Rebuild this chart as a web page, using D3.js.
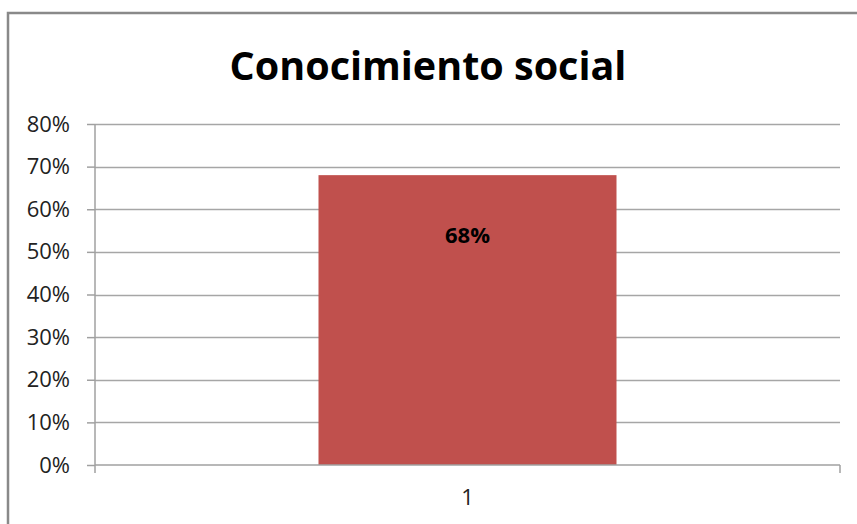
<!DOCTYPE html>
<html><head><meta charset="utf-8">
<script src="https://cdn.jsdelivr.net/npm/d3@7"></script>
<style>html,body{margin:0;padding:0;background:#fff;}svg{display:block;}</style>
</head><body>
<svg id="c" width="857" height="524"></svg>
<script>
const title = "Conocimiento social";
const categories = ["1"];
const values = [0.68];
const yTicks = [0, 0.1, 0.2, 0.3, 0.4, 0.5, 0.6, 0.7, 0.8];

const svg = d3.select("#c");
const font = "'Open Sans', sans-serif";
// outer chart border (left and top visible)
svg.append("path").attr("d", "M8,530 V13 H870").attr("fill", "none")
  .attr("stroke", "#898989").attr("stroke-width", 2.5);

const m = {left: 95, right: 840, top: 124, bottom: 465};
const x = d3.scaleBand().domain(categories).range([m.left, m.right]).paddingInner(0.6).paddingOuter(0.3);
const y = d3.scaleLinear().domain([0, 0.8]).range([m.bottom, m.top]);

svg.append("text").attr("x", 428).attr("y", 80).attr("text-anchor", "middle")
  .attr("font-family", font).attr("font-weight", "bold").attr("font-size", 39.5)
  .attr("fill", "#000").text(title);

// gridlines
svg.append("g").selectAll("line").data(yTicks.filter(t => t > 0)).join("line")
  .attr("x1", m.left).attr("x2", m.right)
  .attr("y1", d => Math.round(y(d)) + 0.5).attr("y2", d => Math.round(y(d)) + 0.5)
  .attr("stroke", "#a6a6a6").attr("stroke-width", 1.5);

// y axis
const yAxis = d3.axisLeft(y).tickValues(yTicks).tickFormat(d3.format(".0%")).tickSize(8).tickPadding(17);
const gy = svg.append("g").attr("transform", `translate(${m.left},0)`).call(yAxis);
gy.select(".domain").remove();
gy.selectAll(".tick line").attr("stroke", "#a0a0a0").attr("stroke-width", 1.5);
gy.selectAll(".tick text").attr("font-family", font).attr("font-size", 22).attr("fill", "#222");
svg.append("line").attr("x1", m.left).attr("x2", m.left).attr("y1", m.top).attr("y2", m.bottom + 8)
  .attr("stroke", "#a0a0a0").attr("stroke-width", 1.5);

// bars
svg.append("g").selectAll("rect").data(values).join("rect")
  .attr("x", (d, i) => x(categories[i])).attr("width", x.bandwidth())
  .attr("y", d => y(d)).attr("height", d => y(0) - y(d))
  .attr("fill", "#C0504D");

// x axis
svg.append("line").attr("x1", m.left).attr("x2", m.right).attr("y1", y(0)).attr("y2", y(0))
  .attr("stroke", "#a0a0a0").attr("stroke-width", 1.5);
svg.append("line").attr("x1", m.right).attr("x2", m.right).attr("y1", y(0)).attr("y2", y(0) + 8)
  .attr("stroke", "#a0a0a0").attr("stroke-width", 1.5);
svg.append("g").selectAll("text").data(categories).join("text")
  .attr("x", d => x(d) + x.bandwidth() / 2).attr("y", y(0) + 40)
  .attr("text-anchor", "middle").attr("font-family", font).attr("font-size", 22).attr("fill", "#222")
  .text(d => d);

// data labels
svg.append("g").selectAll("text").data(values).join("text")
  .attr("x", (d, i) => x(categories[i]) + x.bandwidth() / 2).attr("y", d => y(d) + 68)
  .attr("text-anchor", "middle").attr("font-family", font).attr("font-weight", "bold").attr("font-size", 22)
  .attr("fill", "#000").text(d => d3.format(".0%")(d));
</script>
</body></html>
